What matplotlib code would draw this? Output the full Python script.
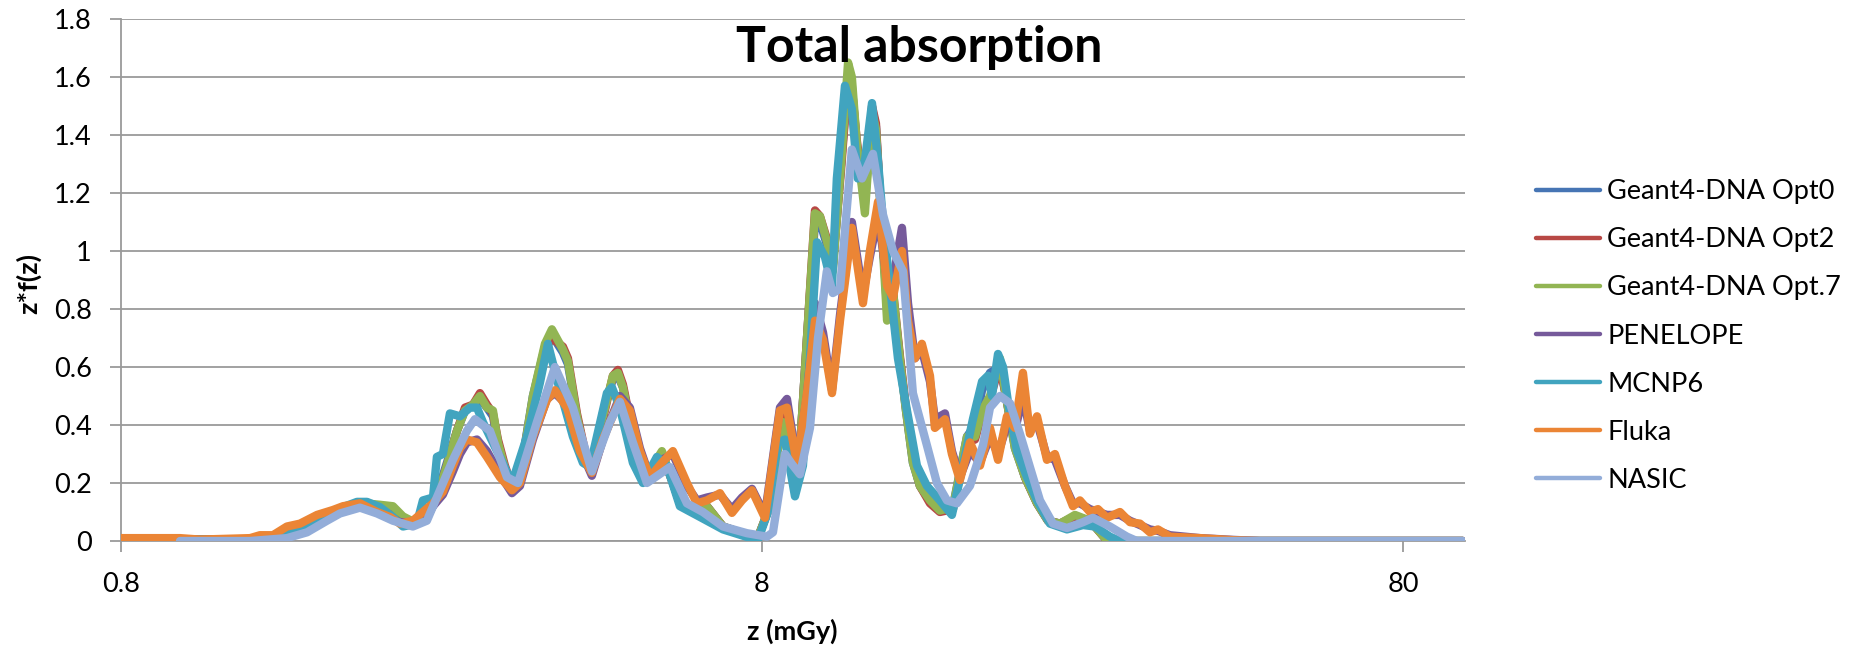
import matplotlib
matplotlib.use("Agg")
import matplotlib.pyplot as plt
from matplotlib.ticker import NullLocator

plt.rcParams['font.family'] = ['Lato', 'DejaVu Sans']

# dose z (mGy) shared by the three Geant4-DNA runs
z_g4 = [0.80, 1.272, 1.452, 1.522, 1.618, 1.713, 1.821, 1.922, 2.028, 2.125,
        2.203, 2.316, 2.401, 2.489, 2.580, 2.675, 2.753, 2.833, 2.905, 2.979,
        3.044, 3.099, 3.178, 3.270, 3.354, 3.514, 3.669, 3.762, 3.914, 3.985,
        4.116, 4.266, 4.343, 4.518, 4.684, 4.768, 4.855, 5.032, 5.217, 5.407,
        5.585, 5.810, 5.958, 6.243, 6.565, 6.955, 7.392, 7.886, 8.233, 8.443,
        8.627, 8.784, 8.943, 9.171, 9.405, 9.679, 9.854, 10.14, 10.32, 10.63,
        10.90, 11.05, 11.25, 11.58, 11.88, 12.05, 12.22, 12.54, 12.76, 13.13,
        13.42, 13.76, 14.11, 14.63, 15.16, 15.89, 16.71, 17.20, 17.64, 18.15,
        18.81, 19.22, 19.85, 20.58, 21.49, 22.35, 23.34, 24.63, 25.99, 27.43,
        28.43, 99.26]

opt0 = [0.005, 0.005, 0.02, 0.04, 0.07, 0.10, 0.12, 0.13, 0.12, 0.11,
        0.08, 0.06, 0.09, 0.16, 0.27, 0.38, 0.45, 0.47, 0.49, 0.46,
        0.43, 0.34, 0.25, 0.18, 0.23, 0.50, 0.67, 0.71, 0.65, 0.61,
        0.43, 0.27, 0.24, 0.44, 0.56, 0.57, 0.53, 0.36, 0.21, 0.26,
        0.30, 0.20, 0.13, 0.11, 0.12, 0.05, 0.03, 0.012, 0.12, 0.30,
        0.40, 0.38, 0.22, 0.32, 0.70, 1.10, 1.10, 1.01, 0.94, 1.30,
        1.60, 1.57, 1.36, 1.16, 1.49, 1.43, 1.19, 0.80, 0.88, 0.63,
        0.45, 0.27, 0.19, 0.14, 0.11, 0.12, 0.36, 0.40, 0.52, 0.58,
        0.60, 0.50, 0.32, 0.22, 0.13, 0.07, 0.06, 0.085, 0.07, 0.01,
        0.0, 0.0]

opt2 = [0.005, 0.005, 0.02, 0.04, 0.07, 0.10, 0.12, 0.13, 0.12, 0.11,
        0.08, 0.06, 0.08, 0.15, 0.26, 0.38, 0.46, 0.47, 0.51, 0.47,
        0.44, 0.35, 0.26, 0.18, 0.22, 0.49, 0.66, 0.70, 0.67, 0.63,
        0.44, 0.28, 0.24, 0.42, 0.57, 0.59, 0.54, 0.37, 0.21, 0.25,
        0.30, 0.20, 0.13, 0.11, 0.12, 0.05, 0.03, 0.012, 0.12, 0.31,
        0.44, 0.40, 0.24, 0.32, 0.70, 1.14, 1.12, 1.03, 0.95, 1.28,
        1.60, 1.56, 1.38, 1.18, 1.50, 1.44, 1.20, 0.82, 0.90, 0.64,
        0.46, 0.28, 0.19, 0.13, 0.10, 0.11, 0.34, 0.35, 0.44, 0.49,
        0.61, 0.50, 0.33, 0.22, 0.13, 0.07, 0.06, 0.085, 0.07, 0.01,
        0.0, 0.0]

opt7 = [0.005, 0.005, 0.02, 0.04, 0.07, 0.10, 0.12, 0.13, 0.125, 0.12,
        0.085, 0.06, 0.08, 0.15, 0.26, 0.38, 0.45, 0.47, 0.50, 0.46,
        0.45, 0.34, 0.25, 0.18, 0.22, 0.50, 0.68, 0.73, 0.66, 0.62,
        0.43, 0.27, 0.24, 0.43, 0.57, 0.58, 0.53, 0.36, 0.21, 0.26,
        0.31, 0.20, 0.13, 0.11, 0.12, 0.05, 0.03, 0.012, 0.12, 0.30,
        0.41, 0.38, 0.23, 0.32, 0.70, 1.13, 1.12, 1.02, 0.93, 1.30,
        1.65, 1.60, 1.37, 1.13, 1.48, 1.42, 1.19, 0.76, 0.90, 0.63,
        0.45, 0.27, 0.19, 0.14, 0.105, 0.117, 0.36, 0.36, 0.45, 0.50,
        0.63, 0.50, 0.32, 0.22, 0.13, 0.07, 0.06, 0.09, 0.07, 0.01,
        0.0, 0.0]

z_mcnp = [0.80, 1.272, 1.452, 1.522, 1.635, 1.776, 1.868, 1.936, 2.028, 2.125,
          2.203, 2.316, 2.367, 2.454, 2.489, 2.543, 2.608, 2.704, 2.803, 2.874,
          2.936, 3.011, 3.121, 3.259, 3.439, 3.603, 3.708, 3.844, 4.057, 4.205,
          4.312, 4.422, 4.584, 4.667, 4.803, 5.032, 5.217, 5.486, 5.686, 5.958,
          6.402, 6.955, 7.580, 7.886, 8.174, 8.474, 8.690, 9.008, 9.270, 9.507,
          9.749, 10.03, 10.29, 10.47, 10.78, 11.05, 11.29, 11.58, 11.88, 12.14,
          12.36, 12.67, 13.04, 13.47, 13.96, 14.47, 15.16, 15.83, 16.47, 17.07,
          17.64, 18.02, 18.28, 18.68, 19.02, 19.36, 20.00, 20.73, 21.49, 22.51,
          23.93, 25.35, 26.46, 27.93, 28.95, 99.26]
mcnp6 = [0.004, 0.004, 0.02, 0.04, 0.07, 0.117, 0.135, 0.135, 0.117, 0.083,
         0.05, 0.06, 0.14, 0.15, 0.29, 0.30, 0.44, 0.43, 0.46, 0.46,
         0.41, 0.36, 0.29, 0.20, 0.36, 0.545, 0.68, 0.545, 0.36, 0.27,
         0.255, 0.36, 0.51, 0.53, 0.46, 0.27, 0.20, 0.29, 0.26, 0.12,
         0.083, 0.04, 0.014, 0.003, 0.10, 0.34, 0.35, 0.154, 0.26, 0.63,
         1.03, 0.98, 0.88, 1.25, 1.57, 1.49, 1.25, 1.31, 1.51, 1.31,
         1.10, 0.88, 0.63, 0.45, 0.26, 0.19, 0.14, 0.09, 0.26, 0.42,
         0.55, 0.57, 0.50, 0.645, 0.60, 0.48, 0.31, 0.22, 0.14, 0.06,
         0.04, 0.055, 0.05, 0.015, 0.0, 0.0]

z_fluka = [0.80, 0.989, 1.062, 1.272, 1.318, 1.381, 1.452, 1.522, 1.618, 1.713,
           1.776, 1.888, 2.007, 2.103, 2.179, 2.283, 2.367, 2.454, 2.543, 2.636,
           2.704, 2.772, 2.874, 2.979, 3.121, 3.259, 3.354, 3.514, 3.695, 3.803,
           3.970, 4.160, 4.343, 4.518, 4.803, 4.978, 5.161, 5.349, 5.585, 5.810,
           6.110, 6.333, 6.565, 6.880, 7.183, 7.446, 7.718, 8.086, 8.535, 8.752,
           9.073, 9.405, 9.679, 9.961, 10.29, 10.59, 11.05, 11.50, 11.79, 12.14,
           12.54, 12.81, 13.23, 13.52, 13.86, 14.21, 14.63, 14.89, 15.44, 15.83,
           16.29, 16.89, 17.51, 18.15, 18.68, 19.29, 19.85, 20.43, 20.95, 21.49,
           22.27, 22.92, 23.76, 24.45, 25.07, 25.99, 26.75, 27.63, 28.95, 30.01,
           31.11, 32.24, 33.18, 34.64, 38.59, 43.44, 47.85, 99.26]
fluka = [0.01, 0.01, 0.005, 0.01, 0.02, 0.02, 0.05, 0.06, 0.09, 0.107,
         0.12, 0.13, 0.10, 0.083, 0.06, 0.07, 0.10, 0.13, 0.17, 0.26,
         0.32, 0.35, 0.34, 0.29, 0.22, 0.175, 0.20, 0.36, 0.486, 0.52,
         0.46, 0.31, 0.235, 0.35, 0.49, 0.45, 0.31, 0.22, 0.27, 0.31,
         0.20, 0.13, 0.14, 0.165, 0.097, 0.14, 0.175, 0.08, 0.45, 0.46,
         0.265, 0.51, 0.76, 0.695, 0.51, 0.76, 1.08, 0.82, 1.00, 1.17,
         0.88, 0.84, 1.00, 0.76, 0.63, 0.68, 0.57, 0.39, 0.42, 0.30,
         0.21, 0.34, 0.26, 0.39, 0.28, 0.43, 0.39, 0.58, 0.37, 0.43,
         0.28, 0.30, 0.19, 0.12, 0.14, 0.10, 0.11, 0.08, 0.10, 0.065,
         0.06, 0.03, 0.04, 0.015, 0.01, 0.003, 0.0, 0.0]
penelope = [0.005, 0.005, 0.004, 0.005, 0.01, 0.015, 0.03, 0.045, 0.07, 0.095,
            0.11, 0.125, 0.11, 0.085, 0.065, 0.065, 0.09, 0.12, 0.16, 0.24,
            0.30, 0.34, 0.35, 0.31, 0.23, 0.165, 0.19, 0.35, 0.49, 0.51,
            0.47, 0.32, 0.225, 0.35, 0.50, 0.46, 0.32, 0.22, 0.28, 0.30,
            0.19, 0.14, 0.15, 0.16, 0.11, 0.15, 0.18, 0.09, 0.46, 0.49,
            0.27, 0.50, 0.82, 0.72, 0.52, 0.78, 1.10, 0.85, 0.98, 1.12,
            0.90, 0.90, 1.08, 0.82, 0.63, 0.66, 0.55, 0.42, 0.44, 0.31,
            0.22, 0.31, 0.27, 0.36, 0.30, 0.40, 0.38, 0.50, 0.38, 0.41,
            0.29, 0.28, 0.19, 0.13, 0.13, 0.11, 0.10, 0.09, 0.09, 0.07,
            0.055, 0.04, 0.035, 0.02, 0.01, 0.004, 0.0, 0.0]

z_nasic = [0.989, 1.272, 1.452, 1.561, 1.677, 1.757, 1.888, 2.007, 2.125, 2.283,
           2.401, 2.516, 2.636, 2.772, 2.853, 3.011, 3.201, 3.330, 3.565, 3.803,
           4.057, 4.343, 4.634, 4.803, 5.032, 5.292, 5.748, 6.110, 6.471, 6.955,
           7.580, 8.145, 8.323, 8.690, 8.911, 9.171, 9.507, 9.784, 10.10, 10.32,
           10.59, 11.05, 11.46, 11.92, 12.36, 12.81, 13.28, 13.76, 14.47, 15.00,
           15.55, 16.12, 16.89, 17.70, 18.15, 18.81, 19.50, 20.21, 20.95, 21.72,
           22.76, 23.93, 25.35, 26.27, 27.93, 29.69, 30.77, 99.26]
nasic = [0.0, 0.0, 0.01, 0.03, 0.07, 0.095, 0.115, 0.095, 0.07, 0.05,
         0.07, 0.175, 0.28, 0.38, 0.42, 0.38, 0.22, 0.20, 0.41, 0.60,
         0.46, 0.24, 0.41, 0.48, 0.34, 0.20, 0.255, 0.13, 0.10, 0.05,
         0.027, 0.015, 0.03, 0.30, 0.265, 0.23, 0.39, 0.70, 0.93, 0.855,
         0.87, 1.35, 1.25, 1.335, 1.125, 1.00, 0.93, 0.51, 0.33, 0.20,
         0.14, 0.13, 0.19, 0.33, 0.46, 0.50, 0.475, 0.37, 0.255, 0.14,
         0.06, 0.045, 0.065, 0.08, 0.05, 0.015, 0.0, 0.0]

y_ticks = [0, 0.2, 0.4, 0.6, 0.8, 1.0, 1.2, 1.4, 1.6, 1.8]
y_labels = ['0', '0.2', '0.4', '0.6', '0.8', '1', '1.2', '1.4', '1.6', '1.8']
x_ticks = [0.8, 8, 80]
x_labels = ['0.8', '8', '80']

series = [
    ('Geant4-DNA Opt0', z_g4, opt0, '#4675B4'),
    ('Geant4-DNA Opt2', z_g4, opt2, '#B84845'),
    ('Geant4-DNA Opt.7', z_g4, opt7, '#92B553'),
    ('PENELOPE', z_fluka, penelope, '#765A9B'),
    ('MCNP6', z_mcnp, mcnp6, '#41A4BF'),
    ('Fluka', z_fluka, fluka, '#EB8535'),
    ('NASIC', z_nasic, nasic, '#93ADD9'),
]

grid_color = '#9a9a9a'

fig = plt.figure(figsize=(18.58, 6.48), dpi=100)
ax = fig.add_axes([0.0651, 0.1651, 0.7234, 0.8056])

lines = []
for i, (name, xs, ys, c) in enumerate(series):
    ln, = ax.plot(xs, ys, color=c, lw=6, label=name, zorder=3 + i,
                  solid_joinstyle='round', solid_capstyle='round')
    lines.append(ln)

ax.set_xscale('log')
ax.set_xlim(0.8, 100)
ax.set_ylim(0, 1.8)
ax.set_xticks(x_ticks)
ax.set_xticklabels(x_labels)
ax.xaxis.set_minor_locator(NullLocator())
ax.set_yticks(y_ticks)
ax.set_yticklabels(y_labels)

ax.grid(axis='y', color=grid_color, lw=1.3)
ax.set_axisbelow(True)
for s in ['top', 'right']:
    ax.spines[s].set_visible(False)
for s in ['left', 'bottom']:
    ax.spines[s].set_color(grid_color)
    ax.spines[s].set_linewidth(1.3)
ax.tick_params(axis='both', direction='out', length=8, width=1.3,
               color=grid_color, labelsize=19.5)
ax.tick_params(axis='y', pad=13)
ax.tick_params(axis='x', pad=14)

fig.text(919 / 1858, 1 - 62 / 648, 'Total absorption', ha='center',
         va='baseline', fontsize=36, fontweight='bold')
fig.text(792 / 1858, 1 - 631 / 648, 'z (mGy)', ha='center', va='center',
         fontsize=19.5, fontweight='bold')
fig.text(28.5 / 1858, 1 - 283 / 648, 'z*f(z)', ha='center', va='center',
         rotation=90, fontsize=19.5, fontweight='bold')

leg = fig.legend(lines, [s[0] for s in series], loc='center left',
                 bbox_to_anchor=(1536 / 1858, 1 - 336 / 648),
                 frameon=False, fontsize=19.5, handlelength=2.37,
                 handletextpad=0.26, labelspacing=0.85, borderpad=0,
                 borderaxespad=0)
for h in leg.get_lines():
    h.set_linewidth(3.2)

fig.savefig('out.png', dpi=100)
